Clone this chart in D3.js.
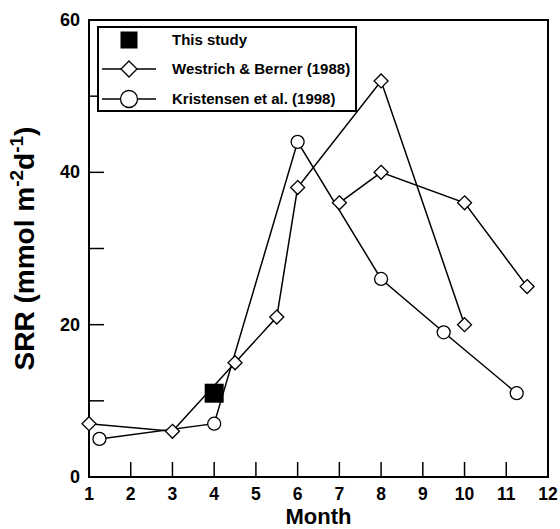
<!DOCTYPE html>
<html>
<head>
<meta charset="utf-8">
<script src="https://cdn.jsdelivr.net/npm/d3@7"></script>
<style>
  body { margin: 0; background: #fff; }
  text { font-family: "Liberation Sans", Arial, sans-serif; font-weight: bold; }
</style>
</head>
<body>
<div id="chart"></div>
<script>
// data
let thisStudy = [{month: 4, srr: 11}];
// Westrich & Berner (1988), two separate runs of connected points
let westrichA = [
    {month: 1, srr: 7}, {month: 3, srr: 6}, {month: 4.5, srr: 15}, {month: 5.5, srr: 21},
    {month: 6, srr: 38}, {month: 8, srr: 52}, {month: 10, srr: 20}
];
let westrichB = [
    {month: 7, srr: 36}, {month: 8, srr: 40}, {month: 10, srr: 36}, {month: 11.5, srr: 25}
];
let kristensen = [
    {month: 1.25, srr: 5}, {month: 4, srr: 7}, {month: 6, srr: 44}, {month: 8, srr: 26},
    {month: 9.5, srr: 19}, {month: 11.25, srr: 11}
];
let xTicks = [1, 2, 3, 4, 5, 6, 7, 8, 9, 10, 11, 12];
let yTicks = [0, 20, 40, 60];
let yMinor = [10, 30, 50];
let legendLabels = ["This study", "Westrich & Berner (1988)", "Kristensen et al. (1998)"];

let margin = {top: 20, right: 12, bottom: 52, left: 89};
let width = 560 - margin.left - margin.right,
    height = 529 - margin.top - margin.bottom;

let svg = d3.select("#chart").append("svg")
    .attr("width", 560)
    .attr("height", 529)
    .append("g")
    .attr("transform", "translate(" + margin.left + "," + margin.top + ")");

let x = d3.scaleLinear().domain([1, 12]).range([0, width]);
let y = d3.scaleLinear().domain([0, 60]).range([height, 0]);

// frame
svg.append("rect")
    .attr("width", width).attr("height", height)
    .attr("fill", "none").attr("stroke", "#000").attr("stroke-width", 2);

// inward ticks
let tickLen = 15;
svg.selectAll(".xtick")
    .data(xTicks.slice(1, -1))
    .enter().append("line")
    .attr("x1", d => x(d)).attr("x2", d => x(d))
    .attr("y1", height).attr("y2", height - tickLen)
    .attr("stroke", "#000").attr("stroke-width", 1.5);

svg.selectAll(".ytick")
    .data(yMinor.concat([20, 40]))
    .enter().append("line")
    .attr("x1", 0).attr("x2", tickLen)
    .attr("y1", d => y(d)).attr("y2", d => y(d))
    .attr("stroke", "#000").attr("stroke-width", 1.5);

// tick labels
svg.selectAll(".xlab")
    .data(xTicks)
    .enter().append("text")
    .attr("x", d => x(d)).attr("y", height + 23)
    .attr("text-anchor", "middle")
    .style("font-size", "17.5px")
    .text(d => d);

svg.selectAll(".ylab")
    .data(yTicks)
    .enter().append("text")
    .attr("x", -9).attr("y", d => y(d) + 6)
    .attr("text-anchor", "end")
    .style("font-size", "18px")
    .text(d => d);

// axis titles
svg.append("text")
    .attr("x", width / 2).attr("y", height + 47)
    .attr("text-anchor", "middle")
    .style("font-size", "22px")
    .text("Month");

let yt = svg.append("text")
    .attr("transform", "translate(-55," + (height / 2) + ") rotate(-90)")
    .attr("text-anchor", "middle")
    .style("font-size", "28px");
yt.append("tspan").text("SRR (mmol m");
yt.append("tspan").attr("dy", -11).style("font-size", "19px").text("-2");
yt.append("tspan").attr("dy", 11).text("d");
yt.append("tspan").attr("dy", -11).style("font-size", "19px").text("-1");
yt.append("tspan").attr("dy", 11).text(")");

// lines
let line = d3.line().x(d => x(d.month)).y(d => y(d.srr));
[westrichA, westrichB, kristensen].forEach(function (series) {
    svg.append("path")
        .datum(series)
        .attr("d", line)
        .attr("fill", "none")
        .attr("stroke", "#000")
        .attr("stroke-width", 1.5);
});

// markers
function diamond(g, cx, cy, r) {
    g.append("path")
        .attr("d", "M" + cx + "," + (cy - r) + "L" + (cx + r) + "," + cy + "L" + cx + "," + (cy + r) + "L" + (cx - r) + "," + cy + "Z")
        .attr("fill", "#fff").attr("stroke", "#000").attr("stroke-width", 1.3);
}
function circle(g, cx, cy, r) {
    g.append("circle")
        .attr("cx", cx).attr("cy", cy).attr("r", r)
        .attr("fill", "#fff").attr("stroke", "#000").attr("stroke-width", 1.3);
}
function square(g, cx, cy, s) {
    g.append("rect")
        .attr("x", cx - s / 2).attr("y", cy - s / 2)
        .attr("width", s).attr("height", s)
        .attr("fill", "#000");
}

westrichA.concat(westrichB).forEach(d => diamond(svg, x(d.month), y(d.srr), 7));
kristensen.forEach(d => circle(svg, x(d.month), y(d.srr), 6.5));
thisStudy.forEach(d => square(svg, x(d.month), y(d.srr), 19));

// legend
let legend = svg.append("g").attr("transform", "translate(9,7)");
legend.append("rect")
    .attr("width", 258).attr("height", 84)
    .attr("fill", "#fff").attr("stroke", "#000").attr("stroke-width", 2);

let rowY = [13, 42, 72];
legendLabels.forEach(function (label, i) {
    let cy = rowY[i];
    if (i > 0) {
        legend.append("line")
            .attr("x1", 4).attr("x2", 58)
            .attr("y1", cy).attr("y2", cy)
            .attr("stroke", "#000").attr("stroke-width", 1.5);
    }
    if (i === 0) square(legend, 31, cy, 17);
    if (i === 1) diamond(legend, 31, cy, 8);
    if (i === 2) circle(legend, 31, cy, 8.5);
    legend.append("text")
        .attr("x", 74).attr("y", cy + 5)
        .style("font-size", "15px")
        .text(label);
});
</script>
</body>
</html>
